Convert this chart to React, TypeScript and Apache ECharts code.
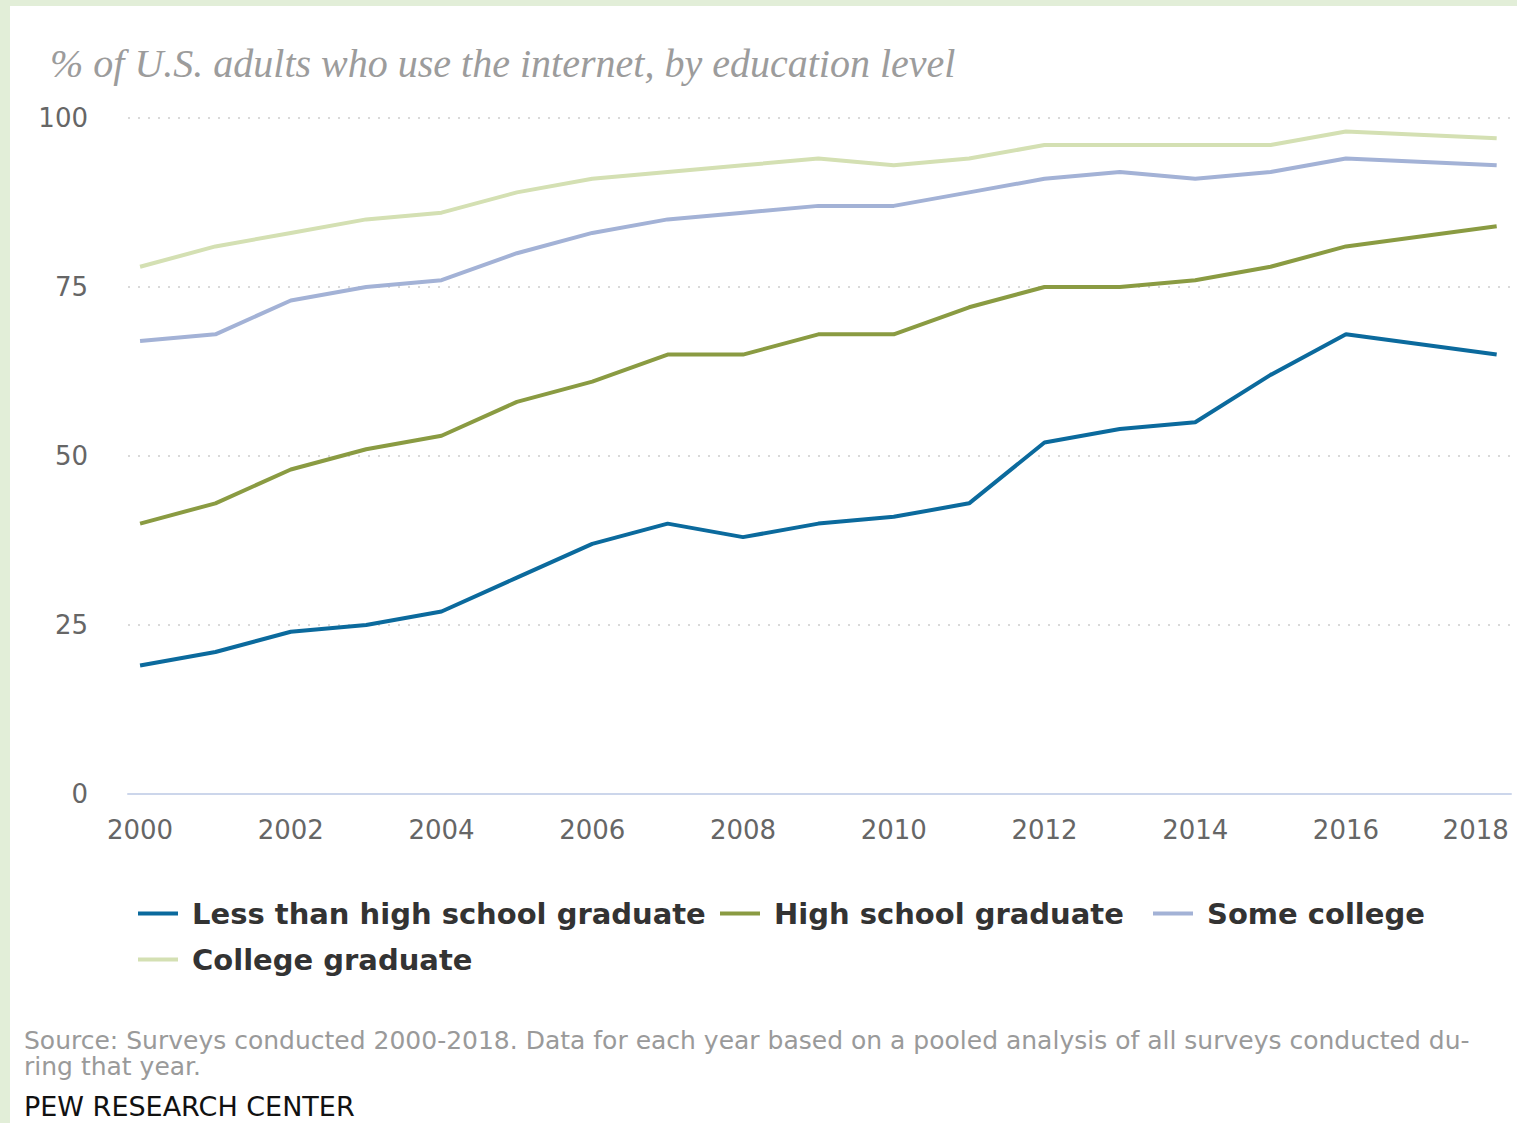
import React, { useEffect, useRef } from "react";
import * as echarts from "echarts";

const years = [2000, 2001, 2002, 2003, 2004, 2005, 2006, 2007, 2008, 2009, 2010, 2011, 2012, 2013, 2014, 2015, 2016, 2018];
const lessThanHS = [19, 21, 24, 25, 27, 32, 37, 40, 38, 40, 41, 43, 52, 54, 55, 62, 68, 65];
const hsGrad = [40, 43, 48, 51, 53, 58, 61, 65, 65, 68, 68, 72, 75, 75, 76, 78, 81, 84];
const someCollege = [67, 68, 73, 75, 76, 80, 83, 85, 86, 87, 87, 89, 91, 92, 91, 92, 94, 93];
const collegeGrad = [78, 81, 83, 85, 86, 89, 91, 92, 93, 94, 93, 94, 96, 96, 96, 96, 98, 97];

const seriesNames = ["Less than high school graduate", "High school graduate", "Some college", "College graduate"];
const seriesColors = ["#0b6a9d", "#8a9b42", "#a3b2d6", "#d4e0b3"];
const xTickLabels = [2000, 2002, 2004, 2006, 2008, 2010, 2012, 2014, 2016, 2018];
const yTicks = [0, 25, 50, 75, 100];

const title = "% of U.S. adults who use the internet, by education level";
const sourceLine1 = "Source: Surveys conducted 2000-2018. Data for each year based on a pooled analysis of all surveys conducted du-";
const sourceLine2 = "ring that year.";
const credit = "PEW RESEARCH CENTER";

const pairs = (vals: number[]) => years.map((y, i) => [y, vals[i]]);

export default function App() {
  const ref = useRef<HTMLDivElement>(null);
  useEffect(() => {
    document.body.style.margin = "0";
    const chart = echarts.init(ref.current!, undefined, { renderer: "svg" });
    const allData = [lessThanHS, hsGrad, someCollege, collegeGrad];
    const legendFont = {
      fontFamily: "DejaVu Sans",
      fontWeight: "bold" as const,
      fontSize: 29,
      color: "#333333",
      padding: [0, 0, 0, 9],
    };
    const legendPos = [
      { left: 138, top: 899 },
      { left: 720, top: 899 },
      { left: 1153, top: 899 },
      { left: 138, top: 945 },
    ];
    chart.setOption({
      animation: false,
      backgroundColor: "#ffffff",
      grid: { left: 128, right: 6, top: 118, bottom: 329, containLabel: false },
      xAxis: {
        type: "value",
        min: 1999.84,
        max: 2018.19,
        axisLine: { show: true, lineStyle: { color: "#ccd6eb", width: 2 } },
        axisTick: { show: false },
        splitLine: { show: false },
        axisLabel: {
          customValues: xTickLabels,
          margin: 23,
          fontFamily: "DejaVu Sans",
          fontSize: 26,
          color: "#666666",
          formatter: (v: number) => (v === 2018 ? "{r|" + v + "}" : String(v)),
          rich: { r: { fontFamily: "DejaVu Sans", fontSize: 26, color: "#666666", padding: [0, 42, 0, 0] } },
        },
      },
      yAxis: {
        type: "value",
        min: 0,
        max: 100,
        interval: 25,
        axisLine: { show: false },
        axisTick: { show: false },
        axisLabel: { margin: 40, fontFamily: "DejaVu Sans", fontSize: 26, color: "#666666", customValues: yTicks },
        splitLine: { show: true, showMinLine: false, lineStyle: { type: [2, 8], width: 2, color: "#d9d9d9" } },
      },
      legend: seriesNames.map((n, i) => ({
        data: [n],
        left: legendPos[i].left,
        top: legendPos[i].top,
        padding: 0,
        icon: "rect",
        itemWidth: 40,
        itemHeight: 4,
        textStyle: legendFont,
        selectedMode: false,
      })),
      series: seriesNames.map((n, i) => ({
        name: n,
        type: "line",
        data: pairs(allData[i]),
        symbol: "none",
        color: seriesColors[i],
        lineStyle: { width: 4, color: seriesColors[i] },
        z: 10 - i,
      })),
      graphic: [
        { type: "rect", shape: { x: 0, y: 0, width: 1517, height: 6 }, style: { fill: "#e2eed8" } },
        { type: "rect", shape: { x: 0, y: 0, width: 10, height: 1123 }, style: { fill: "#e2eed8" } },
        {
          type: "text",
          x: 50,
          y: 63,
          style: {
            text: title,
            fill: "#9c9c9c",
            font: "italic 40px 'Liberation Serif', serif",
            textVerticalAlign: "middle",
          },
        },
        {
          type: "text",
          x: 24,
          y: 1040,
          style: { text: sourceLine1, fill: "#9a9a9a", font: "25px 'DejaVu Sans'", textVerticalAlign: "middle" },
        },
        {
          type: "text",
          x: 24,
          y: 1066,
          style: { text: sourceLine2, fill: "#9a9a9a", font: "25px 'DejaVu Sans'", textVerticalAlign: "middle" },
        },
        {
          type: "text",
          x: 24,
          y: 1106,
          style: { text: credit, fill: "#111111", font: "27px 'DejaVu Sans'", textVerticalAlign: "middle" },
        },
      ],
    });
    return () => chart.dispose();
  }, []);
  return <div ref={ref} style={{ position: "absolute", left: 0, top: 0, width: 1517, height: 1123, background: "#fff" }} />;
}
